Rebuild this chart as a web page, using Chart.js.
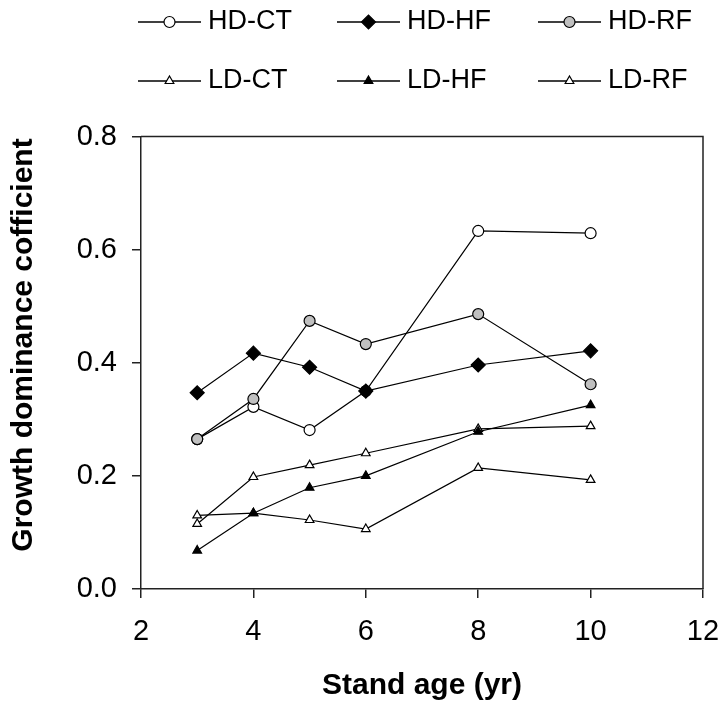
<!DOCTYPE html>
<html>
<head>
<meta charset="utf-8">
<title>Growth dominance coefficient</title>
<script src="https://cdn.jsdelivr.net/npm/chart.js@4.4.0/dist/chart.umd.min.js"></script>
<style>
  html, body { margin: 0; padding: 0; background: #fff; }
  #chart { display: block; }
</style>
</head>
<body>
<canvas id="chart" width="722" height="706"></canvas>
<script>
// stand age (yr)
const ages = [3, 4, 5, 6, 8, 10];

// growth dominance coefficient per treatment
const hdCT = [0.265, 0.322, 0.281, 0.350, 0.633, 0.629];
const hdHF = [0.347, 0.417, 0.392, 0.350, 0.396, 0.421];
const hdRF = [0.265, 0.336, 0.474, 0.433, 0.486, 0.362];
const ldCT = [0.115, 0.198, 0.219, 0.240, 0.283, 0.288];
const ldHF = [0.068, 0.134, 0.179, 0.200, 0.278, 0.325];
const ldRF = [0.130, 0.134, 0.122, 0.106, 0.214, 0.193];

const xTicks = [2, 4, 6, 8, 10, 12];
const yTicks = [0.0, 0.2, 0.4, 0.6, 0.8];

const FONT = "'Liberation Sans', Arial, sans-serif";

const toPoints = vals => ages.map((a, i) => ({ x: a, y: vals[i] }));

// order: lower number is drawn on top
const series = [
  { label: "HD-CT", data: hdCT, style: "circle", r: 5.5, fill: "#ffffff", order: 3 },
  { label: "HD-HF", data: hdHF, style: "rectRot", r: 7, fill: "#000000", order: 1 },
  { label: "HD-RF", data: hdRF, style: "circle", r: 5.5, fill: "#c0c0c0", order: 2 },
  { label: "LD-CT", data: ldCT, style: "triangle", r: 5, fill: "#ffffff", order: 5 },
  { label: "LD-HF", data: ldHF, style: "triangle", r: 5, fill: "#000000", order: 4 },
  { label: "LD-RF", data: ldRF, style: "triangle", r: 5, fill: "#ffffff", order: 6 },
];

function marker(ctx, style, x, y, r, fill) {
  ctx.save();
  ctx.beginPath();
  if (style === "circle") {
    ctx.arc(x, y, r, 0, Math.PI * 2);
  } else if (style === "rectRot") {
    ctx.moveTo(x - r, y); ctx.lineTo(x, y - r); ctx.lineTo(x + r, y); ctx.lineTo(x, y + r);
  } else {
    for (let k = 0; k < 3; k++) {
      const a = k * 2 * Math.PI / 3;
      const px = x + Math.sin(a) * r, py = y - Math.cos(a) * r;
      if (k === 0) ctx.moveTo(px, py); else ctx.lineTo(px, py);
    }
  }
  ctx.closePath();
  ctx.fillStyle = fill;
  ctx.fill();
  ctx.lineWidth = 1.2;
  ctx.strokeStyle = "#000";
  ctx.stroke();
  ctx.restore();
}

// legend, frame and y title drawn by hand
const extras = {
  id: "extras",
  afterDraw(chart) {
    const ctx = chart.ctx;
    const { left, top, right, bottom } = chart.chartArea;

    ctx.save();
    ctx.strokeStyle = "#222";
    ctx.lineWidth = 1.5;
    ctx.beginPath();
    ctx.moveTo(left, top); ctx.lineTo(right, top); ctx.lineTo(right, bottom);
    ctx.stroke();

    // y title
    ctx.translate(24, 345);
    ctx.rotate(-Math.PI / 2);
    ctx.font = "bold 30px " + FONT;
    ctx.fillStyle = "#000";
    ctx.textAlign = "center";
    ctx.textBaseline = "middle";
    ctx.fillText("Growth dominance cofficient", 0, 0);
    ctx.restore();

    // legend: 3 columns x 2 rows
    const colX = [138, 337, 538];
    const rowY = [22, 81];
    ctx.save();
    ctx.font = "27px " + FONT;
    ctx.textBaseline = "middle";
    ctx.fillStyle = "#000";
    series.forEach((s, i) => {
      const x0 = colX[i % 3], y = rowY[Math.floor(i / 3)];
      ctx.strokeStyle = "#000";
      ctx.lineWidth = 1.3;
      ctx.beginPath();
      ctx.moveTo(x0, y); ctx.lineTo(x0 + 63, y);
      ctx.stroke();
      marker(ctx, s.style, x0 + 31.5, y, s.r, s.fill);
      ctx.fillStyle = "#000";
      ctx.fillText(s.label, x0 + 70, y);
    });
    ctx.restore();
  }
};

new Chart(document.getElementById("chart"), {
  type: "line",
  data: {
    datasets: series.map(s => ({
      label: s.label,
      data: toPoints(s.data),
      order: s.order,
      borderColor: "#000",
      borderWidth: 1.2,
      pointStyle: s.style,
      pointRadius: s.r,
      pointBackgroundColor: s.fill,
      pointBorderColor: "#000",
      pointBorderWidth: 1.2,
      tension: 0,
      fill: false,
    })),
  },
  options: {
    responsive: false,
    animation: false,
    devicePixelRatio: 1,
    layout: { padding: { top: 136.5, right: 19, bottom: 0, left: 0 } },
    plugins: {
      legend: { display: false },
      tooltip: { enabled: false },
    },
    scales: {
      x: {
        type: "linear",
        min: 2,
        max: 12,
        afterFit: scale => {
          scale.height = 117;
          scale.paddingLeft = 0;
          scale.paddingRight = 0;
        },
        afterBuildTicks: scale => { scale.ticks = xTicks.map(v => ({ value: v })); },
        ticks: {
          color: "#000",
          font: { family: FONT, size: 29 },
          padding: 17,
        },
        grid: { drawOnChartArea: false, drawTicks: true, tickLength: 9, color: "#222", lineWidth: 1.5 },
        border: { display: true, color: "#222", width: 1.5 },
        title: {
          display: true,
          text: "Stand age (yr)",
          color: "#000",
          font: { family: FONT, size: 30, weight: "bold", lineHeight: 1 },
          padding: { top: 0, bottom: 5 },
        },
      },
      y: {
        type: "linear",
        min: 0,
        max: 0.8,
        afterFit: scale => { scale.width = 141; },
        afterBuildTicks: scale => { scale.ticks = yTicks.map(v => ({ value: v })); },
        ticks: {
          color: "#000",
          font: { family: FONT, size: 29 },
          padding: 15,
          callback: v => v.toFixed(1),
        },
        grid: { drawOnChartArea: false, drawTicks: true, tickLength: 9, color: "#222", lineWidth: 1.5 },
        border: { display: true, color: "#222", width: 1.5 },
      },
    },
  },
  plugins: [extras],
});
</script>
</body>
</html>
